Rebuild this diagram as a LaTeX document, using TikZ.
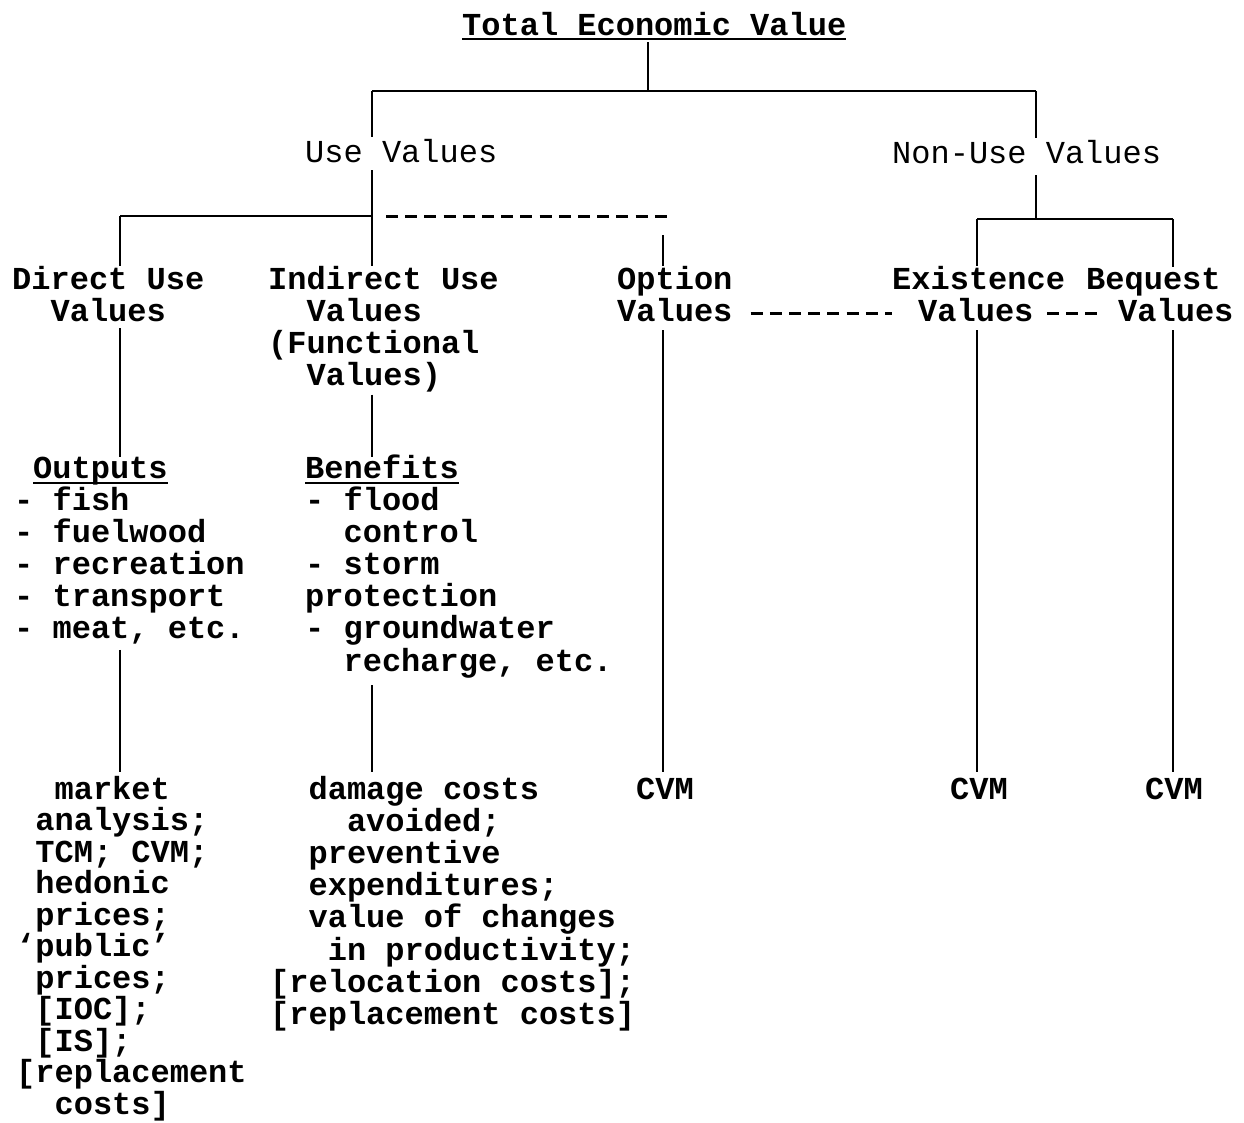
\documentclass[tikz,border=0pt]{standalone}
\usepackage{fontspec}
\setmainfont{Liberation Mono}
\begin{document}
\begin{tikzpicture}[x=1pt,y=-1pt]
\tikzset{
  txt/.style={anchor=base west, inner sep=0pt, align=left, font=\fontsize{32}{32.2}\selectfont\bfseries},
  lighttxt/.style={txt, font=\fontsize{32}{32.2}\selectfont\mdseries},
  tighttxt/.style={txt, font=\fontsize{32}{31.5}\selectfont\bfseries},
  conn/.style={line width=2pt},
  typedash/.style={line width=3pt, dash pattern=on 12pt off 7.2pt},
}
\useasboundingbox[fill=white] (0,0) rectangle (1244,1122);

% text nodes (base anchor = baseline of the last line)
\node[txt] (title) at (462,35) {Total Economic Value};
\node[lighttxt] (use) at (305,162) {Use Values};
\node[lighttxt] (nonuse) at (892,163) {Non-Use Values};
\node[txt] (direct) at (12,321.2) {Direct Use\\~~Values};
\node[txt] (indirect) at (268,385.6) {Indirect Use\\~~Values\\(Functional\\~~Values)};
\node[txt] (option) at (617,321.2) {Option\\Values};
\node[txt] (exist) at (892,321.2) {Existence\\\hspace*{26pt}Values};
\node[txt] (bequest) at (1086,321.2) {Bequest\\\hspace*{32pt}Values};
\node[txt] (outputs) at (33,478) {Outputs};
\node[txt] (outlist) at (14,638.8) {- fish\\- fuelwood\\- recreation\\- transport\\- meat, etc.};
\node[txt] (benefits) at (305,478) {Benefits};
\node[txt] (benlist) at (305,671) {- flood\\~~control\\- storm\\protection\\- groundwater\\~~recharge, etc.};
\node[tighttxt] (market) at (16,1114) {~~market\\~analysis;\\~TCM; CVM;\\~hedonic\\~prices;\\`public'\\~prices;\\~{[}IOC{]};\\~{[}IS{]};\\{[}replacement\\~~costs{]}};
\node[txt] (damage) at (270,1024.4) {~~damage costs\\~~~~avoided;\\~~preventive\\~~expenditures;\\~~value of changes\\~~~in productivity;\\{[}relocation costs{]};\\{[}replacement costs{]}};
\node[txt] (cvm1) at (636,799) {CVM};
\node[txt] (cvm2) at (950,799) {CVM};
\node[txt] (cvm3) at (1145,799) {CVM};

% underlines
\draw[conn] ([yshift=-4pt]title.base west) -- ([yshift=-4pt]title.base east);
\draw[conn] ([yshift=-5pt]outputs.base west) -- ([yshift=-5pt]outputs.base east);
\draw[conn] ([yshift=-5pt]benefits.base west) -- ([yshift=-5pt]benefits.base east);

% junctions
\coordinate (jtop) at (648,91);
\coordinate (jL) at (372,91);
\coordinate (jR) at (1036,91);
\coordinate (jUL) at (372,216);
\coordinate (jDL) at (120,216);
\coordinate (dashend) at (672,216);
\coordinate (optx) at (663,235);
\coordinate (jNU) at (1036,219);
\coordinate (jE) at (977,219);
\coordinate (jB) at (1173,219);

% first level connectors
\draw[conn] ([yshift=-7pt]title.base -| jtop) -- (jtop);
\draw[conn] (jL) -- (jR);
\draw[conn] (jL) -- ([yshift=25pt]use.base -| jL);
\draw[conn] ([yshift=-8pt]use.base -| jL) -- (jUL);
\draw[conn] (jDL) -- (jUL);
\draw[conn] (jUL) -- (indirect.north -| jUL);
\draw[conn] (jDL) -- (direct.north -| jDL);
\draw[typedash] ([xshift=14pt]jUL) -- (dashend);
\draw[conn] (optx) -- (option.north -| optx);
\draw[conn] (jR) -- ([yshift=25pt]nonuse.base -| jR);
\draw[conn] ([yshift=-12pt]nonuse.base -| jR) -- (jNU);
\draw[conn] (jE) -- (jB);
\draw[conn] (jE) -- (exist.north -| jE);
\draw[conn] (jB) -- (bequest.north -| jB);

% second level
\draw[conn] ([yshift=-7pt]direct.base -| jDL) -- ([yshift=21pt]outputs.base -| jDL);
\draw[conn] ([yshift=-9pt]indirect.base -| jUL) -- ([yshift=21pt]benefits.base -| jUL);
\draw[conn] ([yshift=-9pt]option.base -| optx) -- ([yshift=27pt]cvm1.base -| optx);
\draw[conn] ([yshift=-9pt]exist.base -| jE) -- ([yshift=27pt]cvm2.base -| jE);
\draw[conn] ([yshift=-9pt]bequest.base -| jB) -- ([yshift=27pt]cvm3.base -| jB);
\draw[conn] ([yshift=-11pt]outlist.base -| jDL) -- ([yshift=27pt]cvm1.base -| jDL);
\draw[conn] ([yshift=-14pt]benlist.base -| jUL) -- ([yshift=27pt]cvm1.base -| jUL);

% typed dashes between values
\draw[typedash] ([xshift=18pt,yshift=8pt]option.base east) -- ([yshift=8pt]exist.base west);
\draw[typedash] ([xshift=155pt,yshift=8pt]exist.base west) -- ([xshift=14pt,yshift=8pt]bequest.base west);
\end{tikzpicture}
\end{document}
